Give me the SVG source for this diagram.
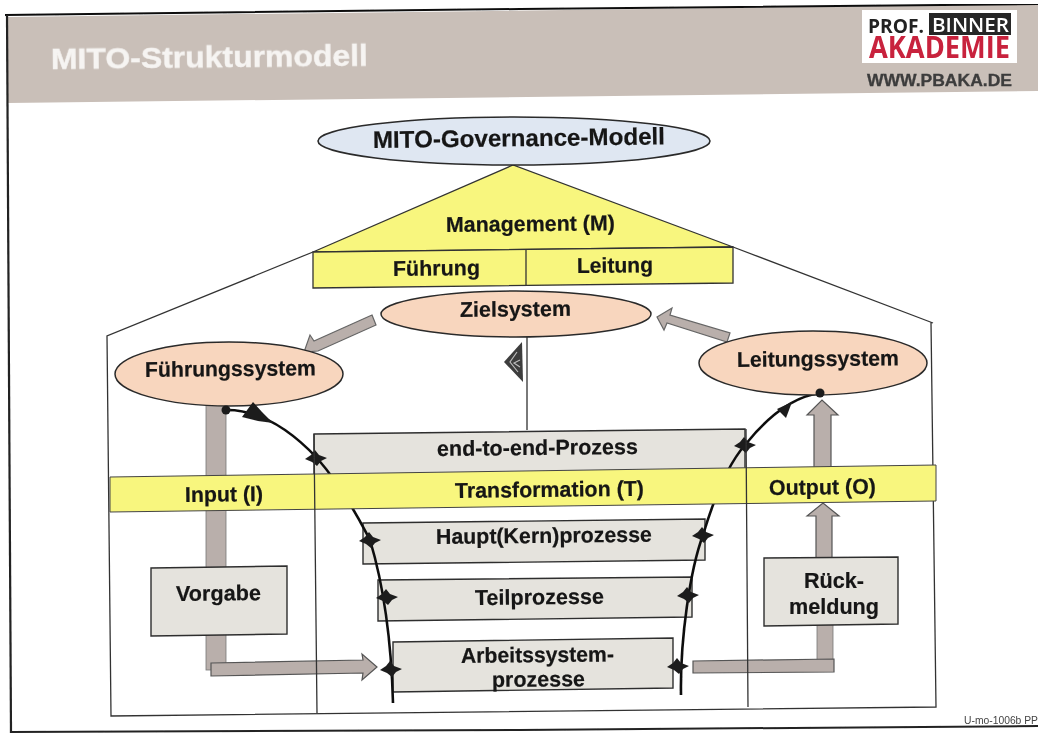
<svg xmlns="http://www.w3.org/2000/svg" width="1038" height="733" viewBox="0 0 1038 733">
<style>
.t{font-family:"Liberation Sans",Arial,sans-serif;font-weight:700;font-size:21.5px;fill:#141414;stroke:#141414;stroke-width:.2}
.l{fill:none;stroke:#333;stroke-width:1.3}
.box{fill:#e5e3dd;stroke:#2e2e2e;stroke-width:1.4}
.yel{fill:#f8f67e;stroke:#333;stroke-width:1.3}
.oval{fill:#f8d6be;stroke:#2a2a2a;stroke-width:1.5}
.bar{fill:#b9afab;stroke:#777;stroke-width:.8}
.arr{fill:#b9afab;stroke:#555;stroke-width:1.2}
.curve{fill:none;stroke:#111;stroke-width:2.6}
.mk{fill:#1c1c1c}
</style>
<defs>
<path id="star" d="M-11,1 L-5,-3 L-1,-8 L3,-3 L11,0 L5,3 L1,8 L-4,4Z"/>
<filter id="scan" x="0" y="0" width="100%" height="100%"><feGaussianBlur stdDeviation="0.45"/></filter>
<filter id="soft" x="-5%" y="-20%" width="110%" height="140%"><feGaussianBlur stdDeviation="0.5"/></filter>
</defs>
<rect width="1038" height="733" fill="#fff"/>
<g id="diagram" filter="url(#scan)">
<g id="frame">
<polygon points="8,17 1038,4 1038,91 8,103" fill="#c9bfb8"/>
<path d="M5,15 L520,9 L1038,4" fill="none" stroke="#111" stroke-width="2"/>
<path d="M7,15 L11,733" fill="none" stroke="#222" stroke-width="2.2"/>
<path d="M10,732 L520,730 L1038,726" fill="none" stroke="#222" stroke-width="2"/>
<text x="51" y="69" textLength="317" lengthAdjust="spacingAndGlyphs" class="t" style="font-size:30px;fill:#f6f4f2;stroke:#f6f4f2;stroke-width:.4" transform="rotate(-.6 51 69)" filter="url(#soft)">MITO-Strukturmodell</text>
<text x="964" y="724" textLength="74" lengthAdjust="spacingAndGlyphs" style="font-family:'Liberation Sans',Arial,sans-serif;font-size:10px;fill:#444">U-mo-1006b PP</text>
</g>
<g id="logo">
<rect x="862" y="10" width="155" height="53" fill="#fff"/>
<rect x="929" y="13" width="82" height="22" fill="#262626"/>
<text x="868" y="33" textLength="56" lengthAdjust="spacingAndGlyphs" style="font-family:'Open Sans',sans-serif;font-weight:700;font-size:19px;fill:#222">PROF.</text>
<text x="932" y="32" textLength="77" lengthAdjust="spacingAndGlyphs" style="font-family:'Open Sans',sans-serif;font-weight:600;font-size:19px;fill:#fff">BINNER</text>
<text x="869" y="58" textLength="141" lengthAdjust="spacingAndGlyphs" style="font-family:'Open Sans',sans-serif;font-weight:700;font-size:30px;fill:#c8213c">AKADEMIE</text>
<text x="867" y="86" textLength="145" lengthAdjust="spacingAndGlyphs" style="font-family:'Liberation Sans',Arial,sans-serif;font-weight:700;font-size:16px;fill:#3c3c3c;stroke:#3c3c3c;stroke-width:.3">WWW.PBAKA.DE</text>
</g>
<g id="house">
<path class="l" d="M313,252 L107,336 L111,716 L936,707 L931,322 M733,247 L933,323"/>
<path class="l" d="M527,337 V430"/>
</g>
<g id="end-to-end-prozess">
<polygon class="box" points="314,434 745,429 745,472 314,476"/>
<text x="437" y="456" textLength="201" lengthAdjust="spacingAndGlyphs" class="t" transform="rotate(-.6 437 456)">end-to-end-Prozess</text>
</g>
<g id="haupt">
<polygon class="box" points="363,523 705,519 705,560 363,564"/>
<text x="436" y="544" textLength="216" lengthAdjust="spacingAndGlyphs" class="t" transform="rotate(-.6 436 544)">Haupt(Kern)prozesse</text>
</g>
<g id="teil">
<polygon class="box" points="378,580 692,577 692,617 378,621"/>
<text x="475" y="605" textLength="129" lengthAdjust="spacingAndGlyphs" class="t" transform="rotate(-.6 475 605)">Teilprozesse</text>
</g>
<g id="arbeit">
<polygon class="box" points="393,642 673,638 673,688 393,692"/>
<text x="461" y="663" textLength="153" lengthAdjust="spacingAndGlyphs" class="t" transform="rotate(-.6 461 663)">Arbeitssystem-</text>
<text x="492" y="687" textLength="93" lengthAdjust="spacingAndGlyphs" class="t" transform="rotate(-.6 492 687)">prozesse</text>
</g>
<g id="connectors">
<rect class="bar" x="206" y="405" width="20" height="265"/>
<polygon class="arr" points="211,663 363,660 362,654 377,667 362,680 363,673 211,676"/>
<rect class="bar" x="817" y="620" width="16" height="42"/>
<polygon class="arr" points="693,661 834,659 834,672 693,673"/>
<polygon class="arr" points="807,415 822,400 838,415 831,415 831,470 814,470 814,415"/>
<polygon class="arr" points="807,516 823,503 839,516 832,516 832,560 816,560 816,516"/>
<polygon class="arr" points="372,315 376,325 318,351 304,352 310,335 314,341" style="stroke:#666"/>
<polygon class="arr" points="657,317 672,308 670,315 730,333 727,342 667,323 664,330" style="stroke:#666"/>
<path class="curve" d="M227,410 C268,410 300,440 317,458 C345,490 362,525 370,540 C382,580 391,630 393,703"/>
<path class="curve" d="M681,695 C680,640 690,570 703,535 C715,495 730,462 745,445 C765,420 790,397 820,393"/>
<polygon class="mk" points="777,409 792,402 786,418"/>
<use href="#star" class="mk" x="316" y="458"/>
<use href="#star" class="mk" x="370" y="540"/>
<use href="#star" class="mk" x="387" y="597"/>
<use href="#star" class="mk" x="391" y="669"/>
<use href="#star" class="mk" x="678" y="666"/>
<use href="#star" class="mk" x="688" y="595"/>
<use href="#star" class="mk" x="703" y="535"/>
<use href="#star" class="mk" x="745" y="445"/>
</g>
<g id="vorgabe">
<polygon class="box" points="151,568 287,566 287,634 151,636"/>
<text x="176" y="601" textLength="85" lengthAdjust="spacingAndGlyphs" class="t" transform="rotate(-.6 176 601)">Vorgabe</text>
</g>
<g id="rueckmeldung">
<polygon class="box" points="764,558 898,557 898,624 764,626"/>
<text x="804" y="588" textLength="60" lengthAdjust="spacingAndGlyphs" class="t">Rück-</text>
<text x="789" y="614" textLength="90" lengthAdjust="spacingAndGlyphs" class="t">meldung</text>
</g>
<g id="band">
<polygon points="110,477 936,465 936,501 110,512" fill="#f8f67e" stroke="#444" stroke-width="1"/>
<path class="l" d="M314,434 L317,713 M746,429 L748,707"/>
<text x="185" y="502" textLength="78" lengthAdjust="spacingAndGlyphs" class="t" transform="rotate(-.7 185 502)">Input (I)</text>
<text x="455" y="498" textLength="189" lengthAdjust="spacingAndGlyphs" class="t" transform="rotate(-.7 455 498)">Transformation (T)</text>
<text x="769" y="495" textLength="107" lengthAdjust="spacingAndGlyphs" class="t" transform="rotate(-.7 769 495)">Output (O)</text>
</g>
<g id="management">
<polygon class="yel" points="313,252 513,165 733,247"/>
<polygon class="yel" points="313,252 733,247 733,283 313,288"/>
<path class="l" d="M526,249 V285"/>
<text x="446" y="232" textLength="169" lengthAdjust="spacingAndGlyphs" class="t" transform="rotate(-.6 446 232)">Management (M)</text>
<text x="393" y="276" textLength="87" lengthAdjust="spacingAndGlyphs" class="t" transform="rotate(-.6 393 276)">Führung</text>
<text x="577" y="273" textLength="76" lengthAdjust="spacingAndGlyphs" class="t" transform="rotate(-.6 577 273)">Leitung</text>
</g>
<g id="governance">
<ellipse cx="514" cy="141" rx="196" ry="24" fill="#dfe7f2" stroke="#2a2a2a" stroke-width="1.6"/>
<text x="373" y="148" textLength="292" lengthAdjust="spacingAndGlyphs" class="t" style="font-size:24px" transform="rotate(-.7 373 148)">MITO-Governance-Modell</text>
</g>
<g id="zielsystem">
<ellipse class="oval" cx="516" cy="314" rx="135" ry="23"/>
<text x="460" y="317" textLength="111" lengthAdjust="spacingAndGlyphs" class="t" transform="rotate(-.6 460 317)">Zielsystem</text>
</g>
<g id="fuehrungssystem">
<ellipse class="oval" cx="229" cy="374" rx="114" ry="32"/>
<text x="145" y="377" textLength="171" lengthAdjust="spacingAndGlyphs" class="t" transform="rotate(-.6 145 377)">Führungssystem</text>
</g>
<g id="leitungssystem">
<ellipse class="oval" cx="813" cy="363" rx="114" ry="32"/>
<text x="737" y="367" textLength="162" lengthAdjust="spacingAndGlyphs" class="t" transform="rotate(-.6 737 367)">Leitungssystem</text>
</g>
<g id="tri-mark">
<polygon points="504,362 522,342 523,382" fill="#3c3c3c"/>
<path d="M517,352 L510,362 L518,372 M520,360 L514,363 L520,367" fill="none" stroke="#bbb" stroke-width="1.2"/>
</g>
<g id="connector-ends">
<circle class="mk" cx="226" cy="410" r="4.5"/>
<circle class="mk" cx="820" cy="393" r="4.5"/>
<polygon class="mk" points="242,417 253,402 262,412 273,423 258,421"/>
</g>
</g>
</svg>
